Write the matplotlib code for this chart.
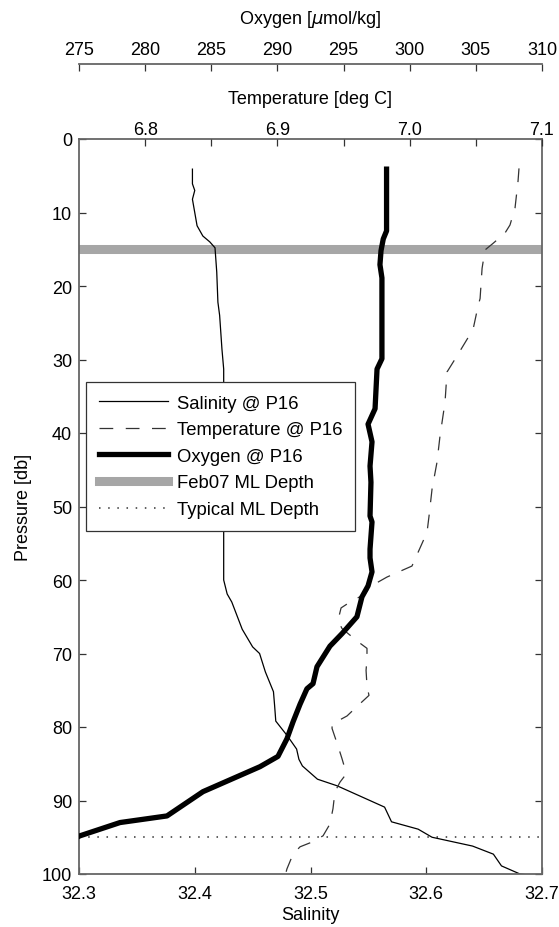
import matplotlib
matplotlib.use("Agg")
import matplotlib.pyplot as plt

plt.rcParams['font.family'] = ['Liberation Sans', 'DejaVu Sans']
plt.rcParams['font.size'] = 13

# Salinity profile at P16
sal_pres = [4.1, 6.1, 7.0, 8.2, 10.9, 11.8, 13.2, 14.0, 14.8, 18.1, 22.2, 24.0, 28.6,
            31.3, 60.0, 61.9, 63.0, 66.7, 69.1, 70.0, 72.5, 75.2, 77.1, 79.2, 81.2,
            83.0, 84.4, 85.3, 87.1, 88.0, 90.9, 92.9, 93.9, 95.0, 96.2, 97.3, 98.9,
            100.0, 100.3]
sal_vals = [32.398, 32.398, 32.400, 32.398, 32.401, 32.402, 32.407, 32.413, 32.4175,
            32.419, 32.420, 32.4215, 32.4235, 32.425, 32.425, 32.428, 32.432, 32.441,
            32.450, 32.456, 32.461, 32.468, 32.469, 32.470, 32.480, 32.488, 32.490,
            32.493, 32.506, 32.523, 32.564, 32.570, 32.593, 32.605, 32.640, 32.658,
            32.665, 32.681, 32.697]

# Temperature profile at P16
temp_pres = [4.0, 5.7, 9.4, 11.7, 12.8, 14.2, 15.1, 17.6, 21.7, 22.7, 25.9, 29.5, 31.7,
             35.8, 40.4, 44.0, 47.6, 51.3, 53.5, 58.1, 59.6, 60.9, 61.9, 63.0, 63.8,
             65.5, 66.6, 68.3, 69.3, 70.7, 72.3, 74.4, 75.7, 77.2, 78.5, 79.6, 80.2,
             82.6, 84.3, 85.7, 86.6, 87.5, 88.8, 91.1, 93.2, 94.8, 95.6, 96.3, 97.3,
             99.3, 100.3]
temp_vals = [7.0826, 7.0819, 7.0796, 7.0758, 7.0720, 7.0630, 7.0569, 7.0547, 7.0532,
             7.0517, 7.0479, 7.0358, 7.0282, 7.0267, 7.0229, 7.0206, 7.0169, 7.0146,
             7.0131, 7.0017, 6.9828, 6.9700, 6.9662, 6.9549, 6.9481, 6.9458, 6.9488,
             6.9602, 6.9677, 6.9677, 6.9670, 6.9677, 6.9692, 6.9602, 6.9526, 6.9413,
             6.9413, 6.9458, 6.9488, 6.9511, 6.9511, 6.9473, 6.9435, 6.9420, 6.9397,
             6.9345, 6.9269, 6.9171, 6.9118, 6.9072, 6.9057]

# Oxygen profile at P16
oxy_pres = [4.1, 12.5, 13.6, 15.2, 17.1, 18.9, 29.9, 31.3, 36.7, 38.8, 41.2, 44.5, 46.7,
            51.3, 52.1, 55.8, 57.0, 58.9, 60.8, 62.3, 65.0, 67.3, 69.0, 71.8, 74.1,
            74.8, 76.9, 79.3, 81.6, 84.0, 85.4, 88.8, 92.1, 93.0, 94.8, 95.2]
oxy_vals = [298.25, 298.25, 298.00, 297.83, 297.75, 297.90, 297.90, 297.53, 297.38,
            296.85, 297.15, 297.00, 297.07, 297.00, 297.15, 297.00, 297.00, 297.15,
            296.85, 296.39, 296.01, 294.88, 293.97, 292.99, 292.69, 292.23, 291.71,
            291.18, 290.72, 290.04, 288.68, 284.37, 281.65, 278.10, 275.08, 274.60]

feb07_ml_depth = 15
typical_ml_depth = 95

sal_ticks = [32.3, 32.4, 32.5, 32.6, 32.7]
temp_ticks = [6.8, 6.9, 7.0, 7.1]
oxy_ticks = [275, 280, 285, 290, 295, 300, 305, 310]
pres_ticks = list(range(0, 101, 10))

spine_col = '#666666'
tick_col = '#333333'

fig = plt.figure(figsize=(5.59, 9.28), dpi=100)
ax = fig.add_axes([79 / 559, 1 - 875 / 928, (542 - 79) / 559, (875 - 140) / 928])
ax_t = ax.twiny()
ax_o = ax.twiny()

# main axes: salinity vs pressure
ax.set_xlim(32.3, 32.7)
ax.set_ylim(100, 0)
ax.set_xticks(sal_ticks)
ax.set_xticklabels([f"{v:.1f}" for v in sal_ticks])
ax.set_yticks(pres_ticks)
ax.tick_params(axis='both', direction='in', length=5, width=0.9, color=tick_col)
ax.tick_params(axis='x', pad=8)
ax.tick_params(axis='y', right=True, pad=5)
ax.set_xlabel('Salinity', labelpad=3)
ax.set_ylabel('Pressure [db]', labelpad=7)
for s in ax.spines.values():
    s.set_color(spine_col)
    s.set_linewidth(1.3)

ml1 = ax.axhline(feb07_ml_depth, color='#a6a6a6', lw=6.5, zorder=1)
ml2 = ax.axhline(typical_ml_depth, color='#333333', lw=1.1, ls=(0, (1, 5)), zorder=1)
ls, = ax.plot(sal_vals, sal_pres, color='black', lw=0.9, zorder=2)

# temperature axis on the top spine
ax_t.set_xlim(6.75, 7.1)
ax_t.set_xticks(temp_ticks)
ax_t.set_xticklabels([f"{v:.1f}" for v in temp_ticks])
ax_t.set_xticks([6.85, 6.95, 7.05], minor=True)
ax_t.tick_params(axis='x', which='both', direction='in', length=5, width=0.9,
                 color=tick_col, pad=1)
ax_t.set_xlabel('Temperature [deg C]', labelpad=13)
for s in ax_t.spines.values():
    s.set_visible(False)
lt, = ax_t.plot(temp_vals, temp_pres, color='#333333', lw=0.9, dashes=(11, 10))

# oxygen axis, detached above
ax_o.set_xlim(275, 310)
ax_o.set_xticks(oxy_ticks)
ax_o.spines['top'].set_position(('outward', 54))
for k in ['left', 'right', 'bottom']:
    ax_o.spines[k].set_visible(False)
ax_o.spines['top'].set_color(spine_col)
ax_o.spines['top'].set_linewidth(1.3)
ax_o.tick_params(axis='x', direction='in', length=5, width=0.9, color=tick_col, pad=4)
ax_o.set_xlabel('Oxygen [$\\mu$mol/kg]', labelpad=13)
lo, = ax_o.plot(oxy_vals, oxy_pres, color='black', lw=3.8, solid_joinstyle='round')

handles = [ls, lt, lo, ml1, ml2]
labels = ['Salinity @ P16', 'Temperature @ P16', 'Oxygen @ P16', 'Feb07 ML Depth',
          'Typical ML Depth']
leg = ax_o.legend(handles, labels, loc='upper left',
                  bbox_to_anchor=(86 / 559, 1 - 383 / 928), bbox_transform=fig.transFigure,
                  borderaxespad=0, fontsize=13.3, handlelength=3.75, handletextpad=0.5,
                  labelspacing=0.52, borderpad=0.68, fancybox=False, framealpha=1,
                  edgecolor='#333333')
leg.get_frame().set_linewidth(0.9)

fig.savefig('out.png', dpi=100)
